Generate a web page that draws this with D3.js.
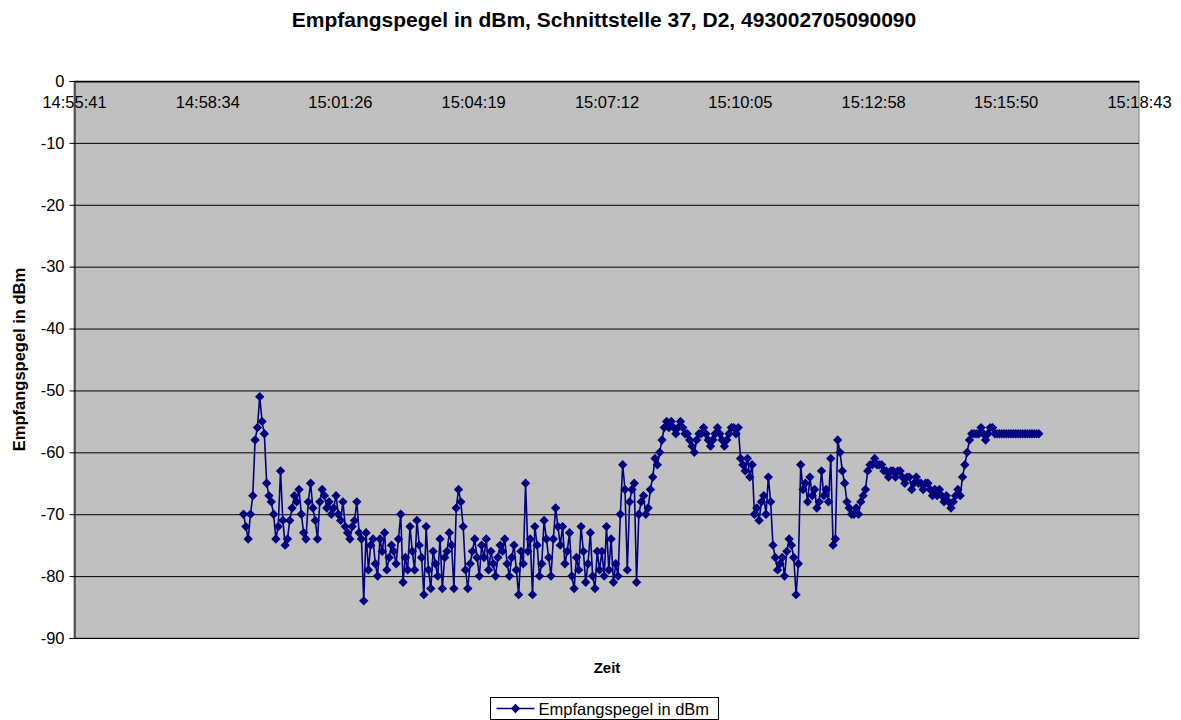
<!DOCTYPE html>
<html>
<head>
<meta charset="utf-8">
<script src="https://cdn.jsdelivr.net/npm/d3@7"></script>
<style>
  body { margin: 0; background: #fff; }
  text { font-family: "Liberation Sans", Arial, sans-serif; }
</style>
</head>
<body>
<div id="chart"></div>
<script>
// measured receive levels, one reading every few seconds
var startTime = "14:59:21";
var stepSeconds = 3;
var levels = [
  -70,-72,-74,-70,-67,-58,-56,-51,-55,-57,
  -65,-67,-68,-70,-74,-72,-63,-71,-75,-74,
  -71,-69,-67,-68,-66,-70,-73,-74,-68,-65,
  -69,-71,-74,-68,-66,-67,-69,-68,-70,-69,
  -67,-70,-71,-68,-72,-73,-74,-72,-71,-68,-73,-74,
  -84,-73,-79,-75,-74,-78,-80,-74,-76,-73,
  -79,-77,-75,-76,-78,-74,-70,-81,-77,-79,
  -72,-76,-79,-71,-75,-77,-83,-72,-79,-82,
  -76,-78,-80,-74,-82,-77,-76,-73,-75,-82,
  -69,-66,-68,-72,-79,-82,-78,-76,-74,-77,
  -80,-75,-77,-74,-79,-76,-78,-80,-77,-75,
  -76,-74,-78,-80,-77,-75,-79,-83,-76,-78,
  -65,-76,-74,-83,-72,-75,-80,-78,-71,-74,
  -77,-80,-74,-69,-72,-75,-72,-78,-76,-73,
  -80,-82,-77,-79,-72,-76,-81,-78,-73,-80,
  -82,-76,-79,
  -76,-80,-72,-79,-74,-81,-78,-80,-70,-62,-66,-79,-68,-66,-65,-81,-70,
  -68,-67,-70,-69,-66,-64,-61,-62,-60,-58,-56,
  -55,-56,-55,-56,-57,-56,-55,-56,-57,-57,-58,-59,-60,-58,-57,-57,
  -56,-57,-58,-59,-58,-57,-56,-57,-58,-59,-58,-57,-56,-56,-57,-56,
  -61,-62,-63,-61,-64,-62,-70,-69,-71,-68,-67,-70,-64,
  -68,-75,-77,-79,-78,-77,-80,-76,-74,-75,-77,-83,-78,-62,
  -66,-65,-68,-64,-67,-66,-69,-68,-63,-67,-66,-68,-61,-75,-74,-58,-60,-63,-65,
  -68,-69,-70,-70,-69,-70,-68,-67,-66,-63,-62,
  -62,-61,-62,-62,-62,-63,-63,-64,-63,-63,-64,-63,-63,-64,-65,-64,-64,-66,-65,-64,
  -65,-65,-66,-65,-65,-66,-67,-66,-67,-66,-67,-68,-67,-68,-69,-68,-67,-66,-67,
  -64,-62,-60,-58,-57,-57,-57,
  -57,-56,-57,-58,-57,-56,-56,-57,-57,-57,-57,
  -57,-57,-57,-57,-57,-57,-57,-57,-57,-57,-57,-57,-57,-57,-57,-57
];
var timeTicks = ["14:55:41","14:58:34","15:01:26","15:04:19","15:07:12","15:10:05","15:12:58","15:15:50","15:18:43"];
var levelTicks = [0,-10,-20,-30,-40,-50,-60,-70,-80,-90];

var titleText = "Empfangspegel in dBm, Schnittstelle 37, D2, 493002705090090";
var seriesName = "Empfangspegel in dBm";

var width = 1181, height = 720;
var margin = {top: 81, right: 42, bottom: 82, left: 74};
var plotW = width - margin.left - margin.right;
var plotH = height - margin.top - margin.bottom;
var labelSize = "16.5px";

var parseTime = d3.timeParse("%H:%M:%S");
var t0 = parseTime(startTime);
var data = levels.map(function(v, i){
  return {t: new Date(t0.getTime() + i * stepSeconds * 1000), v: v};
});

var svg = d3.select("#chart").append("svg")
  .attr("width", width)
  .attr("height", height);

var x = d3.scaleTime()
  .domain([parseTime(timeTicks[0]), parseTime(timeTicks[timeTicks.length-1])])
  .range([0, plotW]);
var y = d3.scaleLinear()
  .domain([-90, 0])
  .range([plotH, 0]);

svg.append("text")
  .attr("x", 604)
  .attr("y", 27)
  .attr("text-anchor", "middle")
  .style("font-size", "21px")
  .style("font-weight", "bold")
  .text(titleText);

var g = svg.append("g")
  .attr("transform", "translate(" + margin.left + "," + margin.top + ")");

g.append("rect")
  .attr("width", plotW)
  .attr("height", plotH)
  .attr("fill", "#c0c0c0")
  .attr("stroke", "#808080")
  .attr("stroke-width", 1);

// gridlines
g.selectAll(".grid").data(levelTicks).enter().append("line")
  .attr("x1", 0).attr("x2", plotW)
  .attr("y1", function(d){ return y(d) + 0.5; })
  .attr("y2", function(d){ return y(d) + 0.5; })
  .attr("stroke", "#000")
  .attr("stroke-width", 1);

// y axis, plain hyphen for minus like the original
var yAxis = d3.axisLeft(y).tickValues(levelTicks).tickSize(5).tickPadding(5)
  .tickFormat(function(d){ return String(d); });
var yg = g.append("g").attr("transform", "translate(0.5,0)").call(yAxis);
yg.select(".domain").attr("stroke", "#000");
yg.selectAll("text").style("font-size", labelSize).attr("fill", "#000");

// x axis sits on the 0 line, labels below it
var xAxis = d3.axisBottom(x)
  .tickValues(timeTicks.map(parseTime))
  .tickFormat(d3.timeFormat("%H:%M:%S"))
  .tickSize(0)
  .tickPadding(15);
var xg = g.append("g").attr("transform", "translate(0," + (y(0) + 0.5) + ")").call(xAxis);
xg.select(".domain").attr("stroke", "#000");
xg.selectAll("text").style("font-size", labelSize).attr("fill", "#000");

// series
var line = d3.line()
  .x(function(d){ return x(d.t); })
  .y(function(d){ return y(d.v); });

g.append("path")
  .datum(data)
  .attr("fill", "none")
  .attr("stroke", "#000080")
  .attr("stroke-width", 1.6)
  .attr("d", line);

var diamond = d3.symbol().type(d3.symbolDiamond2).size(56);
g.selectAll(".pt").data(data).enter().append("path")
  .attr("transform", function(d){ return "translate(" + x(d.t) + "," + y(d.v) + ")"; })
  .attr("d", diamond)
  .attr("fill", "#000080");

// axis titles
svg.append("text")
  .attr("transform", "translate(25," + (margin.top + plotH/2) + ") rotate(-90)")
  .attr("text-anchor", "middle")
  .style("font-size", labelSize)
  .style("font-weight", "bold")
  .text("Empfangspegel in dBm");

svg.append("text")
  .attr("x", 607)
  .attr("y", 673)
  .attr("text-anchor", "middle")
  .style("font-size", "15px")
  .style("font-weight", "bold")
  .text("Zeit");

// legend
var lg = svg.append("g").attr("transform", "translate(490.5,697.5)");
lg.append("rect")
  .attr("width", 228).attr("height", 22)
  .attr("fill", "#fff").attr("stroke", "#000");
lg.append("line")
  .attr("x1", 6).attr("x2", 44).attr("y1", 11).attr("y2", 11)
  .attr("stroke", "#000080").attr("stroke-width", 1.6);
lg.append("path")
  .attr("transform", "translate(25,11)")
  .attr("d", diamond)
  .attr("fill", "#000080");
lg.append("text")
  .attr("x", 48).attr("y", 17)
  .style("font-size", labelSize)
  .text(seriesName);
</script>
</body>
</html>
